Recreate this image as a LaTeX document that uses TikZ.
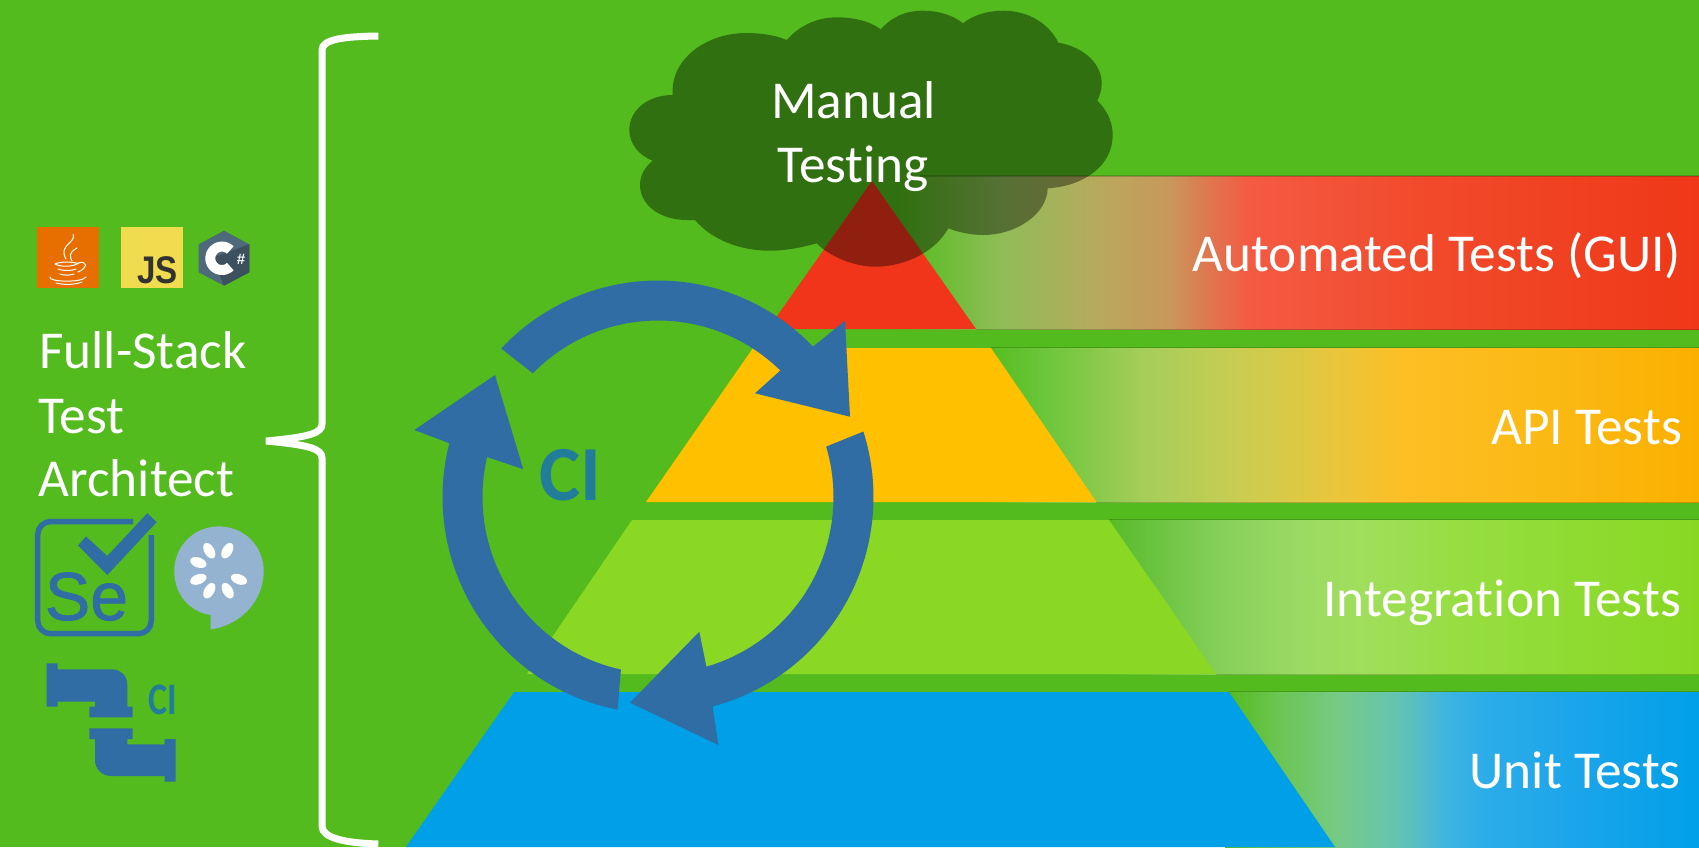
\documentclass[tikz,border=0pt]{standalone}
\usepackage{fontspec}
\setmainfont{Carlito}[Ligatures=NoCommon]
\newfontfamily\arialf{Liberation Sans}
\newfontfamily\arialfat{Liberation Sans}[FakeBold=1.2]
\definecolor{bgg}{HTML}{53BB1D}
\definecolor{ringc}{HTML}{2F6DA4}
\definecolor{cic}{HTML}{227D9B}
\definecolor{trired}{HTML}{F0351A}
\definecolor{triyel}{HTML}{FFC000}
\definecolor{trilim}{HTML}{8AD823}
\definecolor{triblu}{HTML}{00A0E9}
\definecolor{ra}{HTML}{8FBD57}\definecolor{rb}{HTML}{B8A95C}\definecolor{rc}{HTML}{C9975A}\definecolor{rd}{HTML}{E0754F}\definecolor{re}{HTML}{F45A42}\definecolor{rf}{HTML}{F14A2B}\definecolor{rg}{HTML}{EF3818}
\definecolor{ya}{HTML}{6CC63A}\definecolor{yb}{HTML}{A4CD5A}\definecolor{yc}{HTML}{C9CD52}\definecolor{yd}{HTML}{E8C63C}\definecolor{ye}{HTML}{FDBF25}\definecolor{yf}{HTML}{FBB811}\definecolor{yg}{HTML}{FBB000}
\definecolor{ga}{HTML}{62BF36}\definecolor{gb}{HTML}{84CF58}\definecolor{gc}{HTML}{9BDA64}\definecolor{gd}{HTML}{A0DE5C}\definecolor{ge}{HTML}{96DE40}\definecolor{gf}{HTML}{88D822}
\definecolor{ba}{HTML}{6CC552}\definecolor{bb}{HTML}{76CA88}\definecolor{bc}{HTML}{62C3B4}\definecolor{bd}{HTML}{40B5DF}\definecolor{be}{HTML}{2CACE9}\definecolor{bf}{HTML}{18A4EA}\definecolor{bh}{HTML}{00A0E9}
\definecolor{javac}{HTML}{E76F00}
\definecolor{jsc}{HTML}{F1DC50}
\definecolor{jsink}{HTML}{323330}
\definecolor{hexa}{HTML}{4E6A7A}
\definecolor{hexb}{HTML}{3C505E}
\definecolor{cuke}{HTML}{93B3D1}
\tikzset{
  bandedge/.style={draw=black,draw opacity=.18,line width=1.2pt},
  ringfill/.style={fill=ringc},
  whitetext/.style={text=white,inner sep=0pt,font=\fontsize{53.3}{60}\selectfont},
  rightlabel/.style={whitetext,anchor=base east},
  leftlabel/.style={whitetext,anchor=base west},
  centerlabel/.style={whitetext,anchor=base},
  seed/.style={fill=white,draw=none},
  javaline/.style={draw=white,line width=1pt,line cap=round}
}
\newcommand\bandstrips[3]{%
  \foreach \xa/\ca/\xb/\cb in {#3}{%
    \shade[left color=\ca,right color=\cb] (\xa,#1) rectangle ({\xb+.5},#2);
  }%
}
\begin{document}
\begin{tikzpicture}[x=1pt,y=-1pt]
\useasboundingbox (0,0) rectangle (1699,847);
\fill[bgg] (0,0) rectangle (1699,847);
% bands
\bandstrips{176}{329}{900/bgg/1000/ra,1000/ra/1100/rb,1100/rb/1170/rc,1170/rc/1210/rd,1210/rd/1250/re,1250/re/1428/rf,1428/rf/1699/rg}
\bandstrips{348}{502}{980/bgg/1045/ya,1045/ya/1141/yb,1141/yb/1237/yc,1237/yc/1332/yd,1332/yd/1404/ye,1404/ye/1571/yf,1571/yf/1699/yg}
\bandstrips{520}{674}{1100/bgg/1133/ga,1133/ga/1216/gb,1216/gb/1298/gc,1298/gc/1360/gd,1360/gd/1464/ge,1464/ge/1699/gf}
\bandstrips{692}{847}{1225/bgg/1278/ba,1278/ba/1340/bb,1340/bb/1402/bc,1402/bc/1443/bd,1443/bd/1485/be,1485/be/1588/bf,1588/bf/1699/bh}
\draw[bandedge] (920,176) -- (1699,176);
\draw[bandedge] (976,329.5) -- (1699,329.5);
\draw[bandedge] (991,347.5) -- (1699,347.5);
\draw[bandedge] (1096,502.5) -- (1699,502.5);
\draw[bandedge] (1109,519.5) -- (1699,519.5);
\draw[bandedge] (1216,674.5) -- (1699,674.5);
\draw[bandedge] (1229,691.5) -- (1699,691.5);
% pyramid
\fill[trired] (872,181) -- (976,329) -- (768,329) -- cycle;
\fill[triyel] (753,348) -- (991,348) -- (1096.5,502) -- (646,502) -- cycle;
\fill[trilim] (632,520) -- (1109,520) -- (1216,674) -- (527,674) -- cycle;
\fill[triblu] (514,692) -- (1229,692) -- (1335,847) -- (406,847) -- cycle;
% cloud
\fill[black,fill opacity=.4] (672.7,95) .. controls (670,60) and (705,33) .. (746.7,33) .. controls (760,33) and (775,35) .. (786.7,40)
 .. controls (800,25) and (818,17.3) .. (836.7,17.3) .. controls (853,17.3) and (870,21) .. (880.7,29.3)
 .. controls (892,17) and (905,10.7) .. (923,10.7) .. controls (938,10.7) and (953,15) .. (963,23.3)
 .. controls (973,15) and (988,10.7) .. (1003,10.7) .. controls (1030,10.7) and (1050,25) .. (1058.3,42.7)
 .. controls (1085,47) and (1101.7,65) .. (1101.7,83) .. controls (1101.7,90) and (1100,95) .. (1097.3,100.7)
 .. controls (1107,110) and (1112.7,122) .. (1112.7,135) .. controls (1112.7,165) and (1085,186) .. (1047.7,188.3)
 .. controls (1047,215) and (1015,235) .. (983.3,235) .. controls (970,235) and (958,232) .. (948.3,228.3)
 .. controls (935,252) and (905,266.7) .. (875,266.7) .. controls (855,266.7) and (830,257) .. (816.7,243.3)
 .. controls (800,248) and (785,250.7) .. (770,250.7) .. controls (740,250.7) and (712,240) .. (695,220)
 .. controls (692,220) and (690,220) .. (686.7,220) .. controls (660,220) and (640,205) .. (640,185) .. controls (640,175) and (645,167) .. (652.7,160.7)
 .. controls (638,155) and (629.3,143) .. (629.3,130) .. controls (629.3,110) and (648,95) .. (672.7,95) -- cycle;
% CI ring
\fill[ringfill] plot[domain=223.3:316,samples=50] ({658+215.5*cos(\x)},{497+216.5*sin(\x)}) -- (845,320.7) -- (850,416.7) -- (755,393.3) -- plot[domain=314.2:224.5,samples=50] ({658+175.5*cos(\x)},{497+176.5*sin(\x)}) -- cycle;
\fill[ringfill] plot[domain=-17.6:75.3,samples=50] ({658+215.5*cos(\x)},{497+216.5*sin(\x)}) -- (718.3,745) -- (630,702.7) -- (699.3,631.7) -- plot[domain=74:-16.6,samples=50] ({658+175.5*cos(\x)},{497+176.5*sin(\x)}) -- cycle;
\fill[ringfill] plot[domain=100.8:194.4,samples=50] ({658+215.5*cos(\x)},{497+216.5*sin(\x)}) -- (414.3,430) -- (495,375) -- (523.3,469.3) -- plot[domain=193.1:102.2,samples=50] ({658+175.5*cos(\x)},{497+176.5*sin(\x)}) -- cycle;
\node[text=cic,inner sep=0pt,anchor=base,font=\fontsize{78}{80}\selectfont\bfseries] (ciring) at (570.5,500) {CI};
% brace
\draw[white,line width=7pt] (378.3,36) .. controls (345,36.5) and (322,39) .. (322,50) -- (322,424) .. controls (322,433) and (310,437) .. (266,441)
  .. controls (310,445) and (322,449) .. (322,458) -- (322,826) .. controls (322,838) and (345,843) .. (378.3,844);
% java
\fill[javac] (36.7,227) rectangle (99.3,288.3);
\draw[javaline] (73.3,234.5) .. controls (76,243) and (58,245) .. (66,259);
\draw[javaline] (77,248) .. controls (68,253) and (70,257) .. (72,261);
\draw[javaline] (55,264) .. controls (60,261.5) and (72,261.5) .. (78,263.5) .. controls (72,267) and (60,267) .. (55,264);
\draw[javaline] (58,269) .. controls (62,271) and (72,271) .. (76,269);
\draw[javaline] (60,274) .. controls (64,275.5) and (70,275.5) .. (74,274);
\draw[javaline] (78,263) .. controls (88,260) and (88,268) .. (78,272);
\draw[javaline] (50,277) .. controls (48,282) and (82,283) .. (86,277);
\draw[javaline] (56,283) .. controls (64,285) and (74,285) .. (82,282);
% js
\fill[jsc] (120.7,227) rectangle (182.7,288.3);
\node[inner sep=0pt,anchor=base east,text=jsink,xscale=.86,font=\fontsize{38.5}{40}\arialf\bfseries] (jstext) at (178,283.3) {JS};
% csharp
\fill[hexa] (224,230.7) -- (249.3,244.3) -- (249.3,272.3) -- (224,285.7) -- (198.7,272.3) -- (198.7,244.3) -- cycle;
\fill[hexb] (249.3,244.3) -- (249.3,272.3) -- (224,285.7) -- (212,258) -- cycle;
\draw[white,line width=10pt] plot[domain=45:315,samples=40] ({222+11.7*cos(\x)},{258.3+11.7*sin(\x)});
\node[inner sep=0pt,text=white,font=\fontsize{15}{16}\arialf\bfseries] (csharp) at (241,259) {\#};
% full-stack text
\node[leftlabel] (fullstack) at (39,368.3) {Full-Stack};
\node[leftlabel] (testword) at (38,433) {Test};
\node[leftlabel] (architect) at (38.5,496.5) {Architect};
% selenium
\draw[ringc,line width=5.5pt,rounded corners=13pt,line cap=butt] (133,521.5) -- (37.7,521.5) -- (37.7,633.7) -- (151.3,633.7) -- (151.3,535);
\fill[ringc] (78,545.4) -- (86,536.4) -- (107.3,556) -- (147.3,513.2) -- (156.7,522.1) -- (107.3,575) -- cycle;
\node[inner sep=0pt,anchor=base,text=ringc,font=\fontsize{68}{70}\arialfat] (seleniumse) at (86.5,620) {Se};
% cucumber
\fill[cuke] (210.7,629.3) -- (210.7,615) .. controls (190,612) and (174.3,595) .. (174.3,571) .. controls (174.3,546) and (194,526.4) .. (219,526.4) .. controls (244,526.4) and (263.7,546) .. (263.7,571) .. controls (263.7,603) and (238,626) .. (210.7,629.3) -- cycle;
\fill[seed,rotate around={-60:(209.3,550.7)}] (209.3,550.7) ellipse [x radius=8.5,y radius=5];
\fill[seed,rotate around={60:(227.3,550.7)}] (227.3,550.7) ellipse [x radius=8.5,y radius=5];
\fill[seed,rotate around={-20:(198.3,562.5)}] (198.3,562.5) ellipse [x radius=8.5,y radius=5];
\fill[seed,rotate around={20:(198.3,579.3)}] (198.3,579.3) ellipse [x radius=8.5,y radius=5];
\fill[seed,rotate around={60:(209.3,590.7)}] (209.3,590.7) ellipse [x radius=8.5,y radius=5];
\fill[seed,rotate around={-60:(227.7,590.7)}] (227.7,590.7) ellipse [x radius=8.5,y radius=5];
\fill[seed,rotate around={-20:(239,579.3)}] (239,579.3) ellipse [x radius=8.5,y radius=5];
% pipes
\fill[ringc] (46.7,663.3) -- (57.7,663.3) -- (57.7,669.3) -- (111.7,669.3) .. controls (121,669.3) and (127.3,676) .. (127.3,685) -- (127.3,706.7) -- (132.7,706.7) -- (132.7,717.3) -- (89.3,717.3) -- (89.3,706.7) -- (95,706.7) -- (95,701.7) -- (57.7,701.7) -- (57.7,706.7) -- (46.7,706.7) -- cycle;
\fill[ringc] (89.3,728.3) -- (132.7,728.3) -- (132.7,739) -- (127.3,739) -- (127.3,744.3) -- (164.7,744.3) -- (164.7,739) -- (175.7,739) -- (175.7,781.7) -- (164.7,781.7) -- (164.7,776) -- (111.7,776) .. controls (102,776) and (95,769) .. (95,760) -- (95,739) -- (89.3,739) -- cycle;
\node[inner sep=0pt,anchor=base,text=cic,xscale=.8,font=\fontsize{45}{46}\selectfont\bfseries] (ciicon) at (163,714) {CI};
% labels
\node[rightlabel] (autotests) at (1681,271.5) {Automated Tests (GUI)};
\node[rightlabel] (apitests) at (1682,444) {API Tests};
\node[rightlabel] (integtests) at (1681,616.5) {Integration Tests};
\node[rightlabel] (unittests) at (1681,788) {Unit Tests};
\node[centerlabel] (manualword) at (853.5,118.2) {Manual};
\node[centerlabel] (testingword) at (853.5,182.5) {Testing};
\end{tikzpicture}
\end{document}
